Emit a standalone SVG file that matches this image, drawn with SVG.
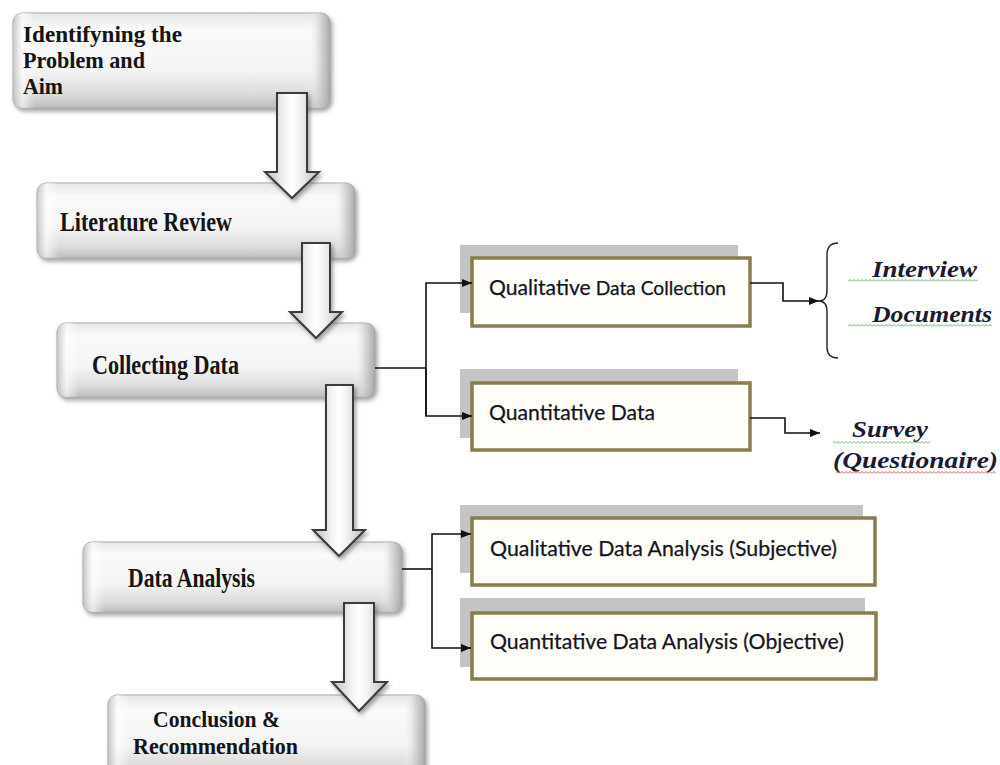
<svg xmlns="http://www.w3.org/2000/svg" width="1000" height="765" viewBox="0 0 1000 765">
<defs>
<style>
.bx{fill:url(#gv);stroke:#a9a9a9;stroke-width:1}
.bxe{fill:url(#gh);stroke:none}
.bt{font-family:"Liberation Serif","Times New Roman",serif;font-weight:bold;font-size:27px;fill:#141414}
.bm{font-size:23px}
.rb{fill:#fffef9;stroke:#8a7c4e;stroke-width:3.5}
.rs{fill:#c4c4c4}
.rt{font-family:Lato,"Open Sans",sans-serif;font-size:22px;fill:#141420;stroke:#141420;stroke-width:0.25}
.it{font-family:"Liberation Serif","Times New Roman",serif;font-weight:bold;font-style:italic;font-size:24px;fill:#1a1a30}
.ln{fill:none;stroke:#111;stroke-width:1.6}
.ba{fill:url(#ga);stroke:#3a3a3a;stroke-width:2;stroke-linejoin:miter}
</style>
<linearGradient id="gv" x1="0" y1="0" x2="0" y2="1">
<stop offset="0" stop-color="#e6e6e6"/>
<stop offset="0.18" stop-color="#fafafa"/>
<stop offset="0.6" stop-color="#f4f4f4"/>
<stop offset="0.85" stop-color="#dcdcdc"/>
<stop offset="1" stop-color="#bdbdbd"/>
</linearGradient>
<linearGradient id="gh" x1="0" y1="0" x2="1" y2="0">
<stop offset="0" stop-color="#b8b8b8" stop-opacity="0.8"/>
<stop offset="0.03" stop-color="#ffffff" stop-opacity="0.6"/>
<stop offset="0.07" stop-color="#ffffff" stop-opacity="0"/>
<stop offset="0.93" stop-color="#ffffff" stop-opacity="0"/>
<stop offset="0.97" stop-color="#c8c8c8" stop-opacity="0.7"/>
<stop offset="1" stop-color="#a0a0a0" stop-opacity="0.9"/>
</linearGradient>
<linearGradient id="ga" x1="0" y1="0" x2="1" y2="0">
<stop offset="0" stop-color="#bdbdbd"/>
<stop offset="0.35" stop-color="#f2f2f2"/>
<stop offset="0.5" stop-color="#ffffff"/>
<stop offset="0.65" stop-color="#f2f2f2"/>
<stop offset="1" stop-color="#bdbdbd"/>
</linearGradient>
<filter id="sh" x="-10%" y="-20%" width="120%" height="150%">
<feDropShadow dx="2" dy="3" stdDeviation="2" flood-color="#555" flood-opacity="0.55"/>
</filter>
<pattern id="wg" width="4" height="3" patternUnits="userSpaceOnUse">
<path d="M0 2.5 L2 0.5 L4 2.5" fill="none" stroke="#3c9a3c" stroke-width="0.8"/>
</pattern>
<pattern id="wr" width="4" height="3" patternUnits="userSpaceOnUse">
<path d="M0 2.5 L2 0.5 L4 2.5" fill="none" stroke="#d03030" stroke-width="0.8"/>
</pattern>
<marker id="ah" markerWidth="10" markerHeight="8" refX="10" refY="4" orient="auto" markerUnits="userSpaceOnUse">
<path d="M0 0 L10 4 L0 8 Z" fill="#111"/>
</marker>
</defs>

<g id="n1">
<rect class="bx" x="13" y="13" width="317" height="95" rx="9" filter="url(#sh)"/>
<rect class="bxe" x="13" y="13" width="317" height="95" rx="9"/>
<text class="bt bm"><tspan x="23" y="42" textLength="159" lengthAdjust="spacingAndGlyphs">Identifyning the</tspan><tspan x="23" y="68" textLength="122" lengthAdjust="spacingAndGlyphs">Problem and</tspan><tspan x="23" y="94" textLength="40" lengthAdjust="spacingAndGlyphs">Aim</tspan></text>
</g>
<g id="n2">
<rect class="bx" x="37" y="183" width="318" height="75" rx="9" filter="url(#sh)"/>
<rect class="bxe" x="37" y="183" width="318" height="75" rx="9"/>
<text class="bt" x="60" y="231" textLength="172" lengthAdjust="spacingAndGlyphs">Literature Review</text>
</g>
<g id="n3">
<rect class="bx" x="57" y="323" width="318" height="74" rx="9" filter="url(#sh)"/>
<rect class="bxe" x="57" y="323" width="318" height="74" rx="9"/>
<text class="bt" x="92" y="374" textLength="147" lengthAdjust="spacingAndGlyphs">Collecting Data</text>
</g>
<g id="n4">
<rect class="bx" x="83" y="542" width="319" height="70" rx="9" filter="url(#sh)"/>
<rect class="bxe" x="83" y="542" width="319" height="70" rx="9"/>
<text class="bt" x="128" y="587" textLength="127" lengthAdjust="spacingAndGlyphs">Data Analysis</text>
</g>
<g id="n5">
<rect class="bx" x="108" y="695" width="317" height="82" rx="9" filter="url(#sh)"/>
<rect class="bxe" x="108" y="695" width="317" height="82" rx="9"/>
<text class="bt bm"><tspan x="153" y="727" textLength="127" lengthAdjust="spacingAndGlyphs">Conclusion &amp;</tspan><tspan x="133" y="754" textLength="165" lengthAdjust="spacingAndGlyphs">Recommendation</tspan></text>
</g>

<g id="n6">
<rect class="rs" x="460" y="245" width="278" height="68"/>
<rect class="rb" x="472" y="258" width="278" height="68"/>
<text class="rt" x="489" y="295" textLength="237" lengthAdjust="spacingAndGlyphs">Qualitative<tspan font-size="20px"> Data Collection</tspan></text>
</g>
<g id="n7">
<rect class="rs" x="460" y="369" width="278" height="69"/>
<rect class="rb" x="472" y="383" width="278" height="67"/>
<text class="rt" x="489" y="420" textLength="166" lengthAdjust="spacingAndGlyphs">Quantitative Data</text>
</g>
<g id="n8">
<rect class="rs" x="460" y="505" width="403" height="68"/>
<rect class="rb" x="472" y="518" width="403" height="67"/>
<text class="rt" x="490" y="556" textLength="347" lengthAdjust="spacingAndGlyphs">Qualitative Data Analysis (Subjective)</text>
</g>
<g id="n9">
<rect class="rs" x="460" y="598" width="405" height="69"/>
<rect class="rb" x="472" y="613" width="404" height="66"/>
<text class="rt" x="490" y="649" textLength="354" lengthAdjust="spacingAndGlyphs">Quantitative Data Analysis (Objective)</text>
</g>

<g id="n10">
<path d="M838 243 Q827 243 827 255 L827 290 Q827 301 819 301 Q827 301 827 312 L827 347 Q827 358 838 358" fill="none" stroke="#222" stroke-width="1.4"/>
<text class="it" x="872" y="277" textLength="105" lengthAdjust="spacingAndGlyphs">Interview</text>
<rect x="848" y="279" width="130" height="3" fill="url(#wg)"/>
<text class="it" x="872" y="322" textLength="120" lengthAdjust="spacingAndGlyphs">Documents</text>
<rect x="848" y="324" width="144" height="3" fill="url(#wg)"/>
</g>
<g id="n11">
<text class="it" x="852" y="437" textLength="76" lengthAdjust="spacingAndGlyphs">Survey</text>
<rect x="833" y="441" width="97" height="3" fill="url(#wg)"/>
<text class="it" x="833" y="468" textLength="165" lengthAdjust="spacingAndGlyphs">(Questionaire)</text>
<rect x="836" y="471" width="160" height="3" fill="url(#wr)"/>
</g>

<g id="connectors">
<polygon class="ba" points="277,93 307,93 307,172 319,172 292,198 265,172 277,172" filter="url(#sh)"/>
<polygon class="ba" points="302,243 330,243 330,312 342,312 316,338 290,312 302,312" filter="url(#sh)"/>
<polygon class="ba" points="326,385 353,385 353,530 365,530 339,556 313,530 326,530" filter="url(#sh)"/>
<polygon class="ba" points="344,603 374,603 374,682 387,682 359,711 332,682 344,682" filter="url(#sh)"/>
<path class="ln" d="M375 368 H426"/>
<path class="ln" d="M426 416 V283 H472" marker-end="url(#ah)"/>
<path class="ln" d="M426 368 V416 H472" marker-end="url(#ah)"/>
<path class="ln" d="M402 569 H432"/>
<path class="ln" d="M432 569 V534 H471" marker-end="url(#ah)"/>
<path class="ln" d="M432 569 V648 H471" marker-end="url(#ah)"/>
<path class="ln" d="M750 283 H783 V301 H819" marker-end="url(#ah)"/>
<path class="ln" d="M750 418 H785 V433 H820" marker-end="url(#ah)"/>
</g>
</svg>
